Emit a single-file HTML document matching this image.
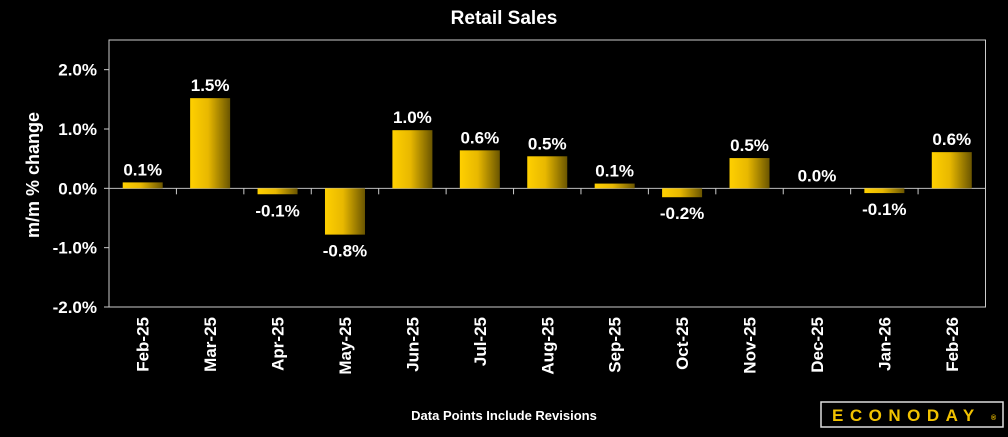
<!DOCTYPE html>
<html><head><meta charset="utf-8"><style>
body{margin:0;background:#000;width:1008px;height:432px;overflow:hidden;font-family:"Liberation Sans",sans-serif}
text{font-family:"Liberation Sans",sans-serif;fill:#fff;font-weight:bold}
</style></head><body>
<svg id="c" width="1008" height="432">
<defs><linearGradient id="g" x1="0" x2="1"><stop offset="0" stop-color="#ffd000"/><stop offset="0.45" stop-color="#e8b800"/><stop offset="1" stop-color="#6a5500"/></linearGradient></defs>
<text x="504" y="24" text-anchor="middle" font-size="19">Retail Sales</text>
<text transform="translate(39,175) rotate(-90)" text-anchor="middle" font-size="18">m/m % change</text>
<text x="504" y="420" text-anchor="middle" font-size="13">Data Points Include Revisions</text>
<g>
<rect x="821" y="402" width="182" height="25" fill="#000" stroke="#ddd" stroke-width="1.5"/>
<text x="832" y="421" font-size="17" style="fill:#f2c200;letter-spacing:6.5px">ECONODAY</text>
<text x="991" y="420" font-size="7" style="fill:#f2c200">®</text>
</g>
<g id="plot"></g>
</svg>
<script>
const categories=["Feb-25","Mar-25","Apr-25","May-25","Jun-25","Jul-25","Aug-25","Sep-25","Oct-25","Nov-25","Dec-25","Jan-26","Feb-26"];
const values=[0.1,1.52,-0.1,-0.78,0.98,0.64,0.54,0.08,-0.15,0.51,0.0,-0.08,0.61];
const labels=["0.1%","1.5%","-0.1%","-0.8%","1.0%","0.6%","0.5%","0.1%","-0.2%","0.5%","0.0%","-0.1%","0.6%"];
const yTicks=[2,1,0,-1,-2];
const yTickLabels=["2.0%","1.0%","0.0%","-1.0%","-2.0%"];
const L=109,R=985.5,T=40,B=307,ymin=-2,ymax=2.5;
const y=v=>B-(v-ymin)/(ymax-ymin)*(B-T);
const slot=(R-L)/categories.length;
const x=i=>L+(i+0.5)*slot;
const NS="http://www.w3.org/2000/svg";
const g=document.getElementById('plot');
function mk(t,a,p){const e=document.createElementNS(NS,t);for(const k in a)e.setAttribute(k,a[k]);(p||g).appendChild(e);return e;}
const fr=mk('rect',{x:L,y:T,width:R-L,height:B-T,fill:'none',stroke:'#ccc','stroke-width':1});


yTicks.forEach((v,i)=>{
 mk('line',{x1:L-5,x2:L,y1:y(v),y2:y(v),stroke:'#ccc'});
 const t=mk('text',{x:L-12,y:y(v)+6,'text-anchor':'end','font-size':17});
 t.textContent=yTickLabels[i];
 
 
});
const zl=mk('line',{x1:L,x2:R,y1:y(0),y2:y(0),stroke:'#bbb'});


for(let i=1;i<categories.length;i++)mk('line',{x1:L+i*slot,x2:L+i*slot,y1:y(0),y2:y(0)+6,stroke:'#ccc'});
categories.forEach((c,i)=>{
 const v=values[i],cx=x(i),bw=40;
 const b=mk('rect',{x:cx-bw/2,y:Math.min(y(v),y(0)),width:bw,height:Math.abs(y(v)-y(0)),fill:'url(#g)'});
 
 
 const ly=v>=0?y(v)-7:y(v)+22;
 const t=mk('text',{x:cx,y:ly,'text-anchor':'middle','font-size':17});
 t.textContent=labels[i];
 
 
 const xt=mk('text',{transform:`translate(${cx+6},317) rotate(-90)`,'text-anchor':'end','font-size':17});
 xt.textContent=c;
 
 
});
</script>
</body></html>
